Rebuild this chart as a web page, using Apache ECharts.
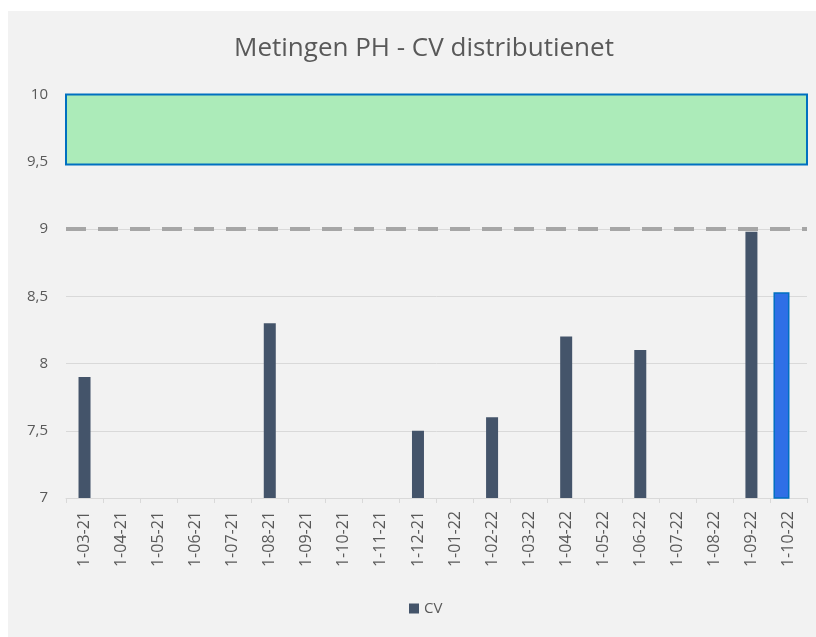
<!DOCTYPE html>
<html><head><meta charset="utf-8">
<script src="https://cdn.jsdelivr.net/npm/echarts@6/dist/echarts.min.js"></script>
<style>html,body{margin:0;padding:0;background:#fff}#c{width:816px;height:637px}</style>
</head><body><div id="c"></div>
<script>
var categories = ['1-03-21','1-04-21','1-05-21','1-06-21','1-07-21','1-08-21','1-09-21','1-10-21','1-11-21','1-12-21','1-01-22','1-02-22','1-03-22','1-04-22','1-05-22','1-06-22','1-07-22','1-08-22','1-09-22','1-10-22'];
var cvValues = [7.9,null,null,null,null,8.3,null,null,null,7.5,null,7.6,null,8.2,null,8.1,null,null,8.98,null];
var latestValues = [null,null,null,null,null,null,null,null,null,null,null,null,null,null,null,null,null,null,null,8.53];
var yTicks = [7,7.5,8,8.5,9,9.5,10];
var limitLine = 9;
var band = [9.48,10];

var font = 'Open Sans';
var emptyValues = categories.map(function(){return null;});
var chart = echarts.init(document.getElementById('c'));
chart.setOption({
  backgroundColor: '#ffffff',
  animation: false,
  graphic: [{type:'rect', z:-10, left:8, top:11, shape:{width:808, height:626}, style:{fill:'#f2f2f2'}}],
  title: {text:'Metingen PH - CV distributienet', left:229, top:31,
    textStyle:{fontFamily:font, fontSize:26, fontWeight:'normal', color:'#595959'}},
  legend: {data:['CV'], bottom:16, left:404, itemWidth:10, itemHeight:10, icon:'rect', itemGap:4,
    textStyle:{fontFamily:font, fontSize:15, color:'#595959'}},
  grid: {left:66, right:9, top:94.5, bottom:139, containLabel:false},
  xAxis: [{type:'category', data:categories,
    axisLine:{lineStyle:{color:'#d9d9d9', width:1}},
    axisTick:{show:true, length:5, lineStyle:{color:'#d9d9d9'}},
    axisLabel:{rotate:90, margin:13, fontFamily:font, fontSize:16, color:'#595959', interval:0}},
    {type:'category', data:categories, show:false, position:'bottom'}],
  yAxis: {type:'value', min:yTicks[0], max:yTicks[yTicks.length-1], interval:0.5,
    axisLine:{show:false}, axisTick:{show:false},
    splitLine:{lineStyle:{color:'#d9d9d9', width:1}},
    axisLabel:{fontFamily:font, fontSize:15, color:'#595959', margin:18,
      formatter:function(v){return String(v).replace('.', ',');}}},
  series: [
    {name:'CV', type:'bar', xAxisIndex:0, data:cvValues, barWidth:12, itemStyle:{color:'#44546a'},
      markLine:{silent:true, symbol:['none','none'], label:{show:false},
        lineStyle:{type:[20,12], color:'#a6a6a6', width:4}, data:[{yAxis:limitLine}]},
      markArea:{silent:true, itemStyle:{color:'#acebb9', borderColor:'#0070c0', borderWidth:2},
        data:[[{yAxis:band[0]},{yAxis:band[1]}]]}},
    {name:'CV latest', type:'bar', xAxisIndex:1, data:latestValues, barWidth:16, barGap:0,
      itemStyle:{color:'#2f6fe6', borderColor:'#0070c0', borderWidth:1.5}},
    {name:'spacer', type:'bar', xAxisIndex:1, data:emptyValues, barWidth:14, barGap:0}
  ]
});
</script></body></html>
